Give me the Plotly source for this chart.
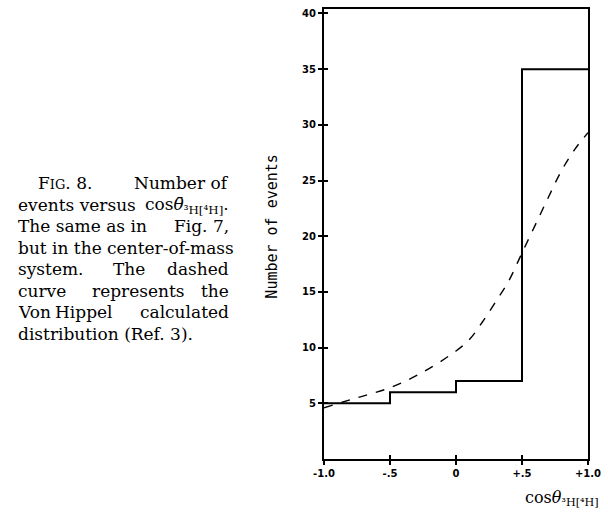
import plotly.graph_objects as go

# ---- data ----
bin_edges = [-1.0, -0.5, 0.0, 0.5, 1.0]
counts = [5, 6, 7, 35]
curve_x = [-1.0, -0.75, -0.5, -0.25, 0.0, 0.1, 0.2, 0.3, 0.4, 0.5, 0.6, 0.7, 0.8, 0.9, 1.0]
curve_y = [4.6, 5.5, 6.4, 7.8, 9.7, 10.7, 12.3, 14.1, 16.0, 18.5, 21.0, 23.5, 25.9, 27.8, 29.3]
x_tickvals = [-1.0, -0.5, 0.0, 0.5, 1.0]
x_ticktext = ["-1.0", "-.5", "0", "+.5", "+1.0"]
y_tickvals = [5, 10, 15, 20, 25, 30, 35, 40]
y_ticktext = ["5", "10", "15", "20", "25", "30", "35", "40"]

W, H = 608, 512
L, R, T, B = 324, 17, 7, 53
pw, ph = W - L - R, H - T - B

def px(x):
    return (x - L) / pw

def py(y):
    return (H - B - y) / ph

step_x = bin_edges
step_y = counts + [counts[-1]]

fig = go.Figure()
fig.add_trace(go.Scatter(x=step_x, y=step_y, mode="lines", line_shape="hv",
                         line=dict(color="black", width=2), hoverinfo="skip"))
fig.add_trace(go.Scatter(x=curve_x, y=curve_y, mode="lines", line_shape="spline",
                         line=dict(color="black", width=1.4, dash="dash"), hoverinfo="skip"))
# invisible trace to activate the overlay axes (inner half of cross ticks)
fig.add_trace(go.Scatter(x=[bin_edges[0]], y=[counts[0]], xaxis="x2", yaxis="y2",
                         mode="markers", marker=dict(opacity=0), hoverinfo="skip"))

tickfont = dict(family="DejaVu Sans", size=10, color="black", weight="bold")
fig.update_layout(
    width=W, height=H, margin=dict(l=L, r=R, t=T, b=B),
    paper_bgcolor="white", plot_bgcolor="white", showlegend=False,
    xaxis=dict(range=[-1, 1], tickvals=x_tickvals, ticktext=x_ticktext,
               ticks="outside", ticklen=4, tickwidth=1.5, tickcolor="black",
               showline=True, linecolor="black", linewidth=2, mirror=True,
               showgrid=False, zeroline=False, tickfont=tickfont),
    yaxis=dict(range=[0, 40.4], tickvals=y_tickvals, ticktext=y_ticktext,
               ticks="outside", ticklen=4, tickwidth=1.5, tickcolor="black",
               showline=True, linecolor="black", linewidth=2, mirror=True,
               showgrid=False, zeroline=False, tickfont=tickfont),
    xaxis2=dict(range=[-1, 1], tickvals=x_tickvals, overlaying="x", anchor="y2",
                ticks="inside", ticklen=4, tickwidth=1.5, tickcolor="black",
                showticklabels=False, showgrid=False, zeroline=False, showline=False),
    yaxis2=dict(range=[0, 40.4], tickvals=y_tickvals, overlaying="y", anchor="x2",
                ticks="inside", ticklen=4, tickwidth=1.5, tickcolor="black",
                showticklabels=False, showgrid=False, zeroline=False, showline=False),
)

ann = []
# y-axis title
ann.append(dict(text="Number of events", xref="paper", yref="paper",
                x=px(271), y=py(225), textangle=-90, showarrow=False,
                xanchor="center", yanchor="middle",
                font=dict(family="DejaVu Sans Mono", size=15, color="black")))
# x-axis title
ann.append(dict(text="cos<i>θ</i><sub>³H[⁴H]</sub>", xref="paper", yref="paper",
                x=px(604), y=py(499), showarrow=False, xanchor="right", yanchor="middle",
                font=dict(family="DejaVu Serif", size=16, color="black")))

cap_font = dict(family="DejaVu Serif", size=17, color="black")
# (text, x pixel, anchor, y pixel)
caption_parts = [
    ("F<span style='font-size:13px'>IG</span>. 8.", 33, "left", 182),
    ("Number of", 230, "right", 182),
    ("events versus", 12, "left", 204),
    ("cos<i>θ̄</i><sub>³H[⁴H]</sub>.", 230, "right", 204),
    ("The same as in", 12, "left", 225),
    ("Fig. 7,", 230, "right", 225),
    ("but in the center-of-mass", 12, "left", 247),
    ("system.", 12, "left", 268),
    ("The", 127, "center", 268),
    ("dashed", 230, "right", 268),
    ("curve", 12, "left", 290),
    ("represents", 136, "center", 290),
    ("the", 230, "right", 290),
    ("Von", 12, "left", 311),
    ("Hippel", 81, "center", 311),
    ("calculated", 230, "right", 311),
    ("distribution (Ref. 3).", 12, "left", 333),
]
for txt, xp, anc, yp in caption_parts:
    ann.append(dict(text=txt, xref="paper", yref="paper", x=px(xp), y=py(yp),
                    showarrow=False, xanchor=anc, yanchor="middle", font=cap_font))

fig.update_layout(annotations=ann)
fig.write_html("out.html", config={"displayModeBar": False},
               post_script="document.body.style.margin='0';document.body.style.overflow='hidden';")
